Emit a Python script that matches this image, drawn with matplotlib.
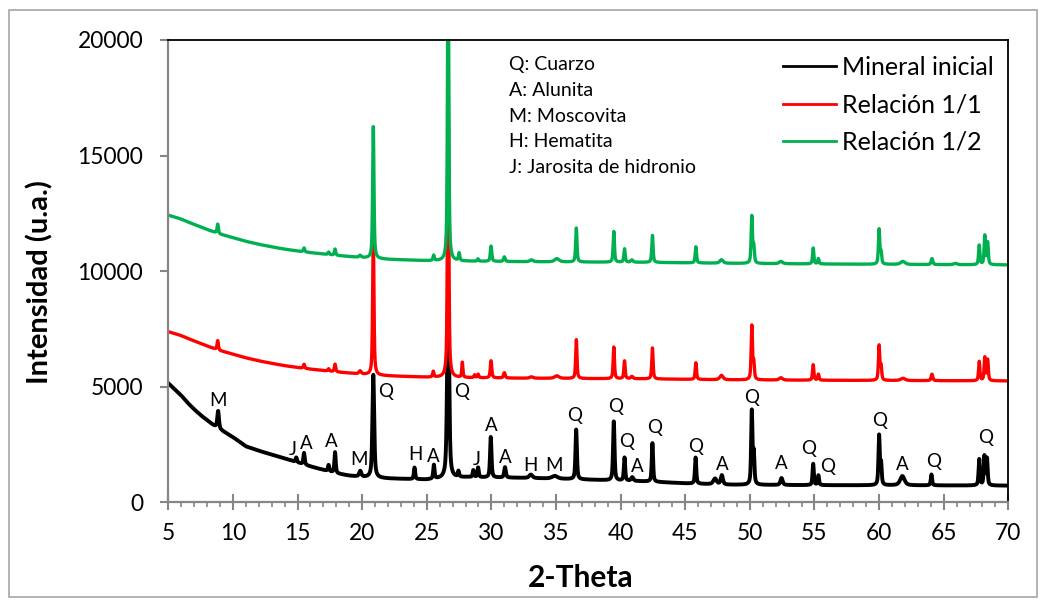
import numpy as np
import matplotlib
matplotlib.use("Agg")
import matplotlib.pyplot as plt
from matplotlib.patches import Rectangle

plt.rcParams["font.family"] = ["Lato", "DejaVu Sans"]

# background anchors (2-theta, counts) for each pattern
BG_X = [5, 5.5, 6, 6.5, 7, 7.5, 8, 8.5, 9, 10, 11, 12, 13, 14, 15, 16, 17, 18,
        19, 20, 22, 25, 28, 32, 35, 38, 42, 45, 48, 55, 65, 70]
BG_INICIAL = [5150, 4880, 4620, 4300, 4020, 3770, 3550, 3330, 3150, 2820, 2420,
              2230, 2060, 1900, 1720, 1550, 1400, 1250, 1150, 1090, 1030, 980,
              1080, 1060, 1020, 970, 900, 820, 760, 740, 730, 720]
BG_R11 = [7380, 7300, 7210, 7090, 6980, 6870, 6760, 6660, 6560, 6410, 6250,
          6120, 6010, 5910, 5830, 5760, 5700, 5640, 5590, 5540, 5470, 5410,
          5390, 5370, 5360, 5350, 5340, 5320, 5300, 5280, 5260, 5250]
BG_R12 = [12420, 12340, 12250, 12130, 12020, 11910, 11800, 11700, 11600, 11450,
          11290, 11160, 11050, 10950, 10870, 10800, 10740, 10680, 10630, 10580,
          10510, 10450, 10430, 10410, 10400, 10390, 10380, 10360, 10340, 10310,
          10280, 10270]

# reflections: position (2-theta), net height above background, FWHM (deg)
POS_INICIAL = [8.85, 14.9, 15.5, 17.4, 17.9, 19.85, 20.86, 24.05, 25.55, 26.65,
               27.45, 28.6, 28.97, 29.95, 31.05, 33.05, 34.9, 36.56, 39.47, 40.3,
               40.9, 42.46, 45.8, 47.3, 47.83, 50.15, 50.3, 52.45, 54.9, 55.3,
               60.0, 60.15, 61.8, 64.05, 67.75, 68.15, 68.35]
NET_INICIAL = [750, 200, 500, 270, 900, 250, 4450, 500, 600, 8000,
               250, 300, 420, 1750, 450, 150, 120, 2150, 2550, 1000,
               160, 1670, 1130, 250, 400, 3150, 1300, 300, 920, 420,
               2120, 900, 400, 470, 1130, 1250, 1150]
FWHM_INICIAL = [0.15, 0.12, 0.12, 0.12, 0.12, 0.2, 0.16, 0.12, 0.12, 0.18,
                0.12, 0.12, 0.12, 0.13, 0.15, 0.3, 0.5, 0.13, 0.13, 0.12,
                0.2, 0.12, 0.12, 0.3, 0.2, 0.12, 0.12, 0.2, 0.12, 0.12,
                0.12, 0.12, 0.4, 0.12, 0.12, 0.12, 0.12]

POS_R11 = [8.82, 15.5, 17.4, 17.9, 19.84, 20.86, 25.5, 26.65, 27.75, 28.7,
           28.97, 29.97, 31.0, 33.1, 35.06, 36.57, 39.47, 40.3, 40.87, 42.46,
           45.82, 47.8, 50.15, 50.3, 52.4, 54.9, 55.3, 60.0, 60.15, 61.84,
           64.09, 67.75, 68.18, 68.4]
NET_R11 = [400, 180, 100, 330, 130, 6000, 250, 13000, 650, 120,
           150, 740, 230, 60, 110, 1680, 1370, 770, 100, 1340,
           720, 190, 2320, 700, 100, 670, 260, 1490, 600, 100,
           280, 830, 1000, 900]
FWHM_R11 = [0.12, 0.12, 0.12, 0.12, 0.2, 0.12, 0.12, 0.12, 0.1, 0.12,
            0.12, 0.13, 0.15, 0.3, 0.4, 0.12, 0.12, 0.12, 0.2, 0.12,
            0.12, 0.3, 0.12, 0.12, 0.3, 0.12, 0.12, 0.12, 0.12, 0.4,
            0.15, 0.12, 0.12, 0.12]

POS_R12 = [8.82, 15.5, 17.4, 17.9, 19.84, 20.86, 25.53, 26.65, 27.5, 28.96,
           29.97, 31.0, 33.1, 35.06, 36.57, 39.47, 40.3, 40.87, 42.46, 45.82,
           47.8, 50.15, 50.3, 52.4, 54.9, 55.3, 60.0, 60.15, 61.84, 64.09,
           65.9, 67.75, 68.18, 68.4]
NET_R12 = [400, 170, 110, 270, 90, 5700, 230, 13500, 330, 100,
           660, 200, 80, 140, 1470, 1330, 580, 100, 1170, 700,
           150, 2020, 700, 100, 690, 230, 1500, 500, 130, 260,
           60, 840, 1250, 950]
FWHM_R12 = [0.12, 0.12, 0.12, 0.12, 0.2, 0.12, 0.12, 0.12, 0.12, 0.12,
            0.13, 0.15, 0.3, 0.4, 0.12, 0.12, 0.12, 0.2, 0.12, 0.12,
            0.3, 0.12, 0.12, 0.3, 0.12, 0.12, 0.12, 0.12, 0.4, 0.15,
            0.3, 0.12, 0.12, 0.12]

SERIES = ["Mineral inicial", "Relación 1/1", "Relación 1/2"]
COLORS = ["#000000", "#FF0000", "#00B050"]

# phase markers on the initial pattern
LABEL_TEXT = ["M", "J", "A", "A", "M", "Q", "H", "A", "Q", "J", "A", "A", "H",
              "M", "Q", "Q", "Q", "A", "Q", "Q", "A", "Q", "A", "Q", "Q", "Q",
              "A", "Q", "Q"]
LABEL_X = [8.86, 14.63, 15.71, 17.59, 19.76, 21.85, 24.1, 25.53, 27.71, 28.87,
           29.98, 31.1, 33.05, 34.88, 36.42, 39.63, 40.48, 41.3, 42.62, 45.77,
           47.88, 50.15, 52.4, 54.54, 56.0, 60.03, 61.81, 64.2, 68.27]
LABEL_Y = [4420, 2280, 2540, 2640, 1860, 4780, 2060, 2000, 4780, 1860,
           3330, 1920, 1600, 1600, 3770, 4130, 2610, 1560, 3220, 2420,
           1640, 4530, 1670, 2320, 1560, 3550, 1640, 1750, 2800]

KEY = ["Q: Cuarzo", "A: Alunita", "M: Moscovita", "H: Hematita",
       "J: Jarosita de hidronio"]


def pattern(x, bg, pos, net, fwhm):
    """Background + pseudo-Voigt reflections."""
    y = np.interp(x, BG_X, bg)
    for p, h, w in zip(pos, net, fwhm):
        d = (x - p) / (w / 2)
        y += h * (0.6 / (1 + d ** 2) + 0.4 * np.exp(-np.log(2) * d ** 2))
    return y


tt = np.arange(5, 70.001, 0.01)
curves = [
    pattern(tt, BG_INICIAL, POS_INICIAL, NET_INICIAL, FWHM_INICIAL),
    pattern(tt, BG_R11, POS_R11, NET_R11, FWHM_R11),
    pattern(tt, BG_R12, POS_R12, NET_R12, FWHM_R12),
]

fig = plt.figure(figsize=(10.45, 6.03), dpi=100)
ax = fig.add_axes([0.1611, 0.1670, 0.8038, 0.7667])

for y, name, c, lw in zip(curves, SERIES, COLORS, [2.8, 2.4, 2.4]):
    ax.plot(tt, y, color=c, lw=lw, label=name, solid_joinstyle="round")

ax.set_xlim(5, 70)
ax.set_ylim(0, 20000)
ax.set_xticks(np.arange(5, 71, 5))
ax.set_xticks(np.arange(5, 71, 1), minor=True)
ax.set_yticks(np.arange(0, 20001, 5000))

grey = "#868686"
for s in ("left", "bottom"):
    ax.spines[s].set_color(grey)
    ax.spines[s].set_linewidth(1.6)
for s in ("top", "right"):
    ax.spines[s].set_color("black")
    ax.spines[s].set_linewidth(1.3)

ax.tick_params(axis="x", which="major", direction="inout", length=12, width=1.5,
               color=grey, labelsize=16.4, pad=9)
ax.tick_params(axis="x", which="minor", direction="out", length=3.6, width=1.2,
               color=grey)
ax.tick_params(axis="y", which="major", direction="out", length=6, width=1.5,
               color=grey, labelsize=16.4, pad=12)

for t, x, y in zip(LABEL_TEXT, LABEL_X, LABEL_Y):
    ax.text(x, y, t, ha="center", va="center", fontsize=13.5)

for i, line in enumerate(KEY):
    ax.text(0.4056, (502.3 - 65 - 25.6 * i) / 462.3, line,
            transform=ax.transAxes, ha="left", va="center", fontsize=14)

leg = ax.legend(loc="upper left", bbox_to_anchor=(0.7493, 0.9075),
                bbox_transform=fig.transFigure, frameon=False, fontsize=18,
                handlelength=2.1, handletextpad=0.25, labelspacing=0.58,
                borderpad=0, borderaxespad=0)
for h in leg.get_lines():
    h.set_linewidth(2.0)

fig.text(0.556, 0.0415, "2-Theta", ha="center", va="center",
         fontsize=21.5, fontweight="bold")
fig.text(0.0383, 0.532, "Intensidad (u.a.)", ha="center", va="center",
         rotation=90, fontsize=21, fontweight="bold")

fig.patches.append(Rectangle((9 / 1045, 6 / 603), 1028 / 1045, 587 / 603,
                             transform=fig.transFigure, fill=False,
                             edgecolor="#A6A6A6", lw=1.2))

fig.savefig("out.png", dpi=100)
